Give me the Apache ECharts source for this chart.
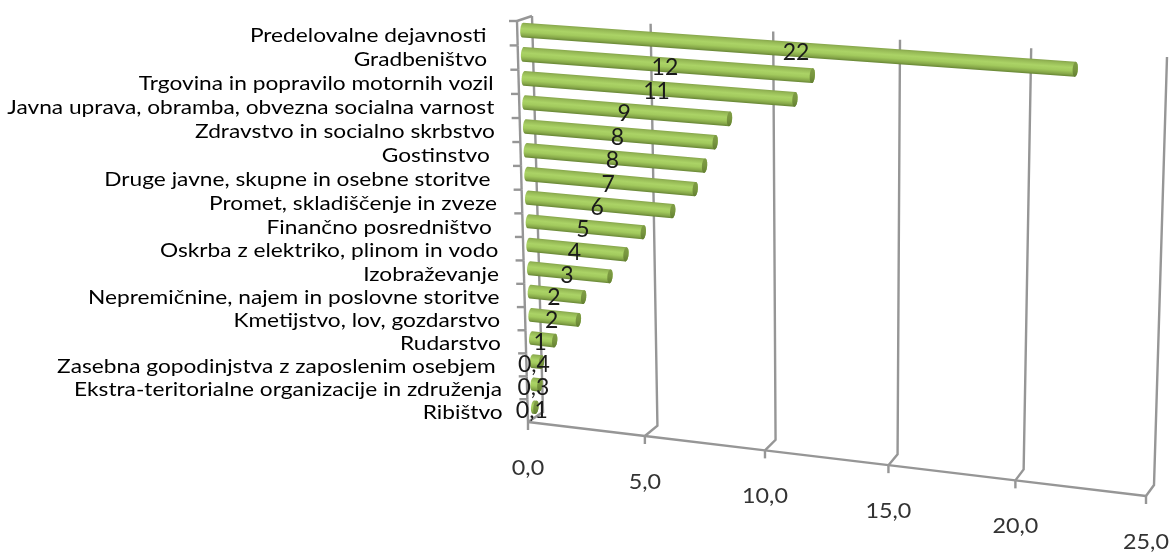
<!DOCTYPE html>
<html><head><meta charset="utf-8">
<style>html,body{margin:0;padding:0;background:#fff}#c{width:1170px;height:552px}</style>
<script src="https://cdn.jsdelivr.net/npm/echarts@6/dist/echarts.min.js"></script>
</head><body><div id="c"></div>
<script>
const categories = ["Predelovalne dejavnosti ","Gradbeništvo ","Trgovina in popravilo motornih vozil","Javna uprava, obramba, obvezna socialna varnost","Zdravstvo in socialno skrbstvo","Gostinstvo ","Druge javne, skupne in osebne storitve ","Promet, skladiščenje in zveze","Finančno posredništvo ","Oskrba z elektriko, plinom in vodo","Izobraževanje","Nepremičnine, najem in poslovne storitve","Kmetijstvo, lov, gozdarstvo","Rudarstvo","Zasebna gopodinjstva z zaposlenim osebjem ","Ekstra-teritorialne organizacije in združenja","Ribištvo"];
const values = [22,11.9,11.2,8.55,7.95,7.5,7.1,6.15,4.9,4.15,3.45,2.3,2.05,1,0.4,0.3,0.1];
const valueLabels = ["22","12","11","9","8","8","7","6","5","4","3","2","2","1","0,4","0,3","0,1"];
const axisTicks = [0,5,10,15,20,25];
const axisTickLabels = ["0,0","5,0","10,0","15,0","20,0","25,0"];

const FONT = 'Lato, "Open Sans", sans-serif';
// perspective planes of the 3-D box: [top-left, top-right, bottom-right, bottom-left]
const frontPlane = [[517,21],[1159,68],[1146,496],[528,422]];
const backPlane  = [[532,16],[1167,57],[1154,485],[543,412]];
const barPlane   = [[522.5,18],[1157,62],[1149,493],[534,418.5]];

function homography(q){
  const [p0,p1,p2,p3]=q;
  const dx1=p1[0]-p2[0],dx2=p3[0]-p2[0],sx=p0[0]-p1[0]+p2[0]-p3[0];
  const dy1=p1[1]-p2[1],dy2=p3[1]-p2[1],sy=p0[1]-p1[1]+p2[1]-p3[1];
  const det=dx1*dy2-dx2*dy1;
  const g=(sx*dy2-dx2*sy)/det,h=(dx1*sy-sx*dy1)/det;
  const a=p1[0]-p0[0]+g*p1[0],b=p3[0]-p0[0]+h*p3[0],c=p0[0];
  const d=p1[1]-p0[1]+g*p1[1],e=p3[1]-p0[1]+h*p3[1],f=p0[1];
  return (u,v)=>{const w=g*u+h*v+1;return [(a*u+b*v+c)/w,(d*u+e*v+f)/w];};
}
const front=homography(frontPlane),back=homography(backPlane),bar=homography(barPlane);
const GRAY='#969696';
const norm=(api,params,v,cat)=>{
  const cs=params.coordSys,p=api.coord([v,cat]);
  return [(p[0]-cs.x)/cs.width,(p[1]-cs.y)/cs.height];
};
const line=(pts,w)=>({type:'polyline',shape:{points:pts},style:{stroke:GRAY,lineWidth:w||2.4,fill:null}});
const barStops=[{offset:0,color:'#86a54b'},{offset:.12,color:'#95b855'},{offset:.4,color:'#abd366'},{offset:.62,color:'#a2ca5d'},{offset:.85,color:'#86a749'},{offset:1,color:'#668534'}];

function renderWall(params,api){
  const i=params.dataIndex,[u]=norm(api,params,api.value(0),0);
  const f0=front(u,1),b0=back(u,1),b1=back(u,0);
  const kids=[line([f0,b0,b1]),line([f0,[f0[0],f0[1]+8]])];
  if(i<axisTicks.length-1){
    const [un]=norm(api,params,axisTicks[i+1],0);
    kids.push(line([f0,front(un,1)]));
  }
  kids.push({type:'text',x:f0[0],y:f0[1]+46,scaleX:1.06,style:{x:0,y:0,text:axisTickLabels[i],fontFamily:FONT,fontSize:22,fill:'#333',align:'center',verticalAlign:'middle'}});
  return {type:'group',children:kids};
}
function renderBar(params,api){
  const v=api.value(0),cat=api.value(1);
  const [u,h]=norm(api,params,v,cat),[u0]=norm(api,params,0,cat);
  const s=bar(u0,h),e=bar(u,h);
  const dx=e[0]-s[0],dy=e[1]-s[1],L=Math.hypot(dx,dy)||1;
  const tx=dx/L,ty=dy/L,nx=-ty,ny=tx,R=7.5-0.8*h,A=2.6;
  const pts=[];
  const arc=(c,a0,a1,n,mat)=>{for(let k=0;k<=n;k++){const t=a0+(a1-a0)*k/n;mat.push([c[0]+A*Math.cos(t)*tx+R*Math.sin(t)*nx,c[1]+A*Math.cos(t)*ty+R*Math.sin(t)*ny]);}};
  arc(e,-Math.PI/2,Math.PI/2,12,pts);
  arc(s,Math.PI/2,Math.PI*1.5,12,pts);
  const cap=[];arc(e,0,Math.PI*2,24,cap);
  const grad=new echarts.graphic.LinearGradient(s[0]-nx*R,s[1]-ny*R,s[0]+nx*R,s[1]+ny*R,barStops,true);
  const capGrad=new echarts.graphic.LinearGradient(e[0]-nx*R,e[1]-ny*R,e[0]+nx*R,e[1]+ny*R,[{offset:0,color:'#7f9d45'},{offset:.5,color:'#78963f'},{offset:1,color:'#637f31'}],true);
  return {type:'group',children:[
    {type:'polygon',shape:{points:pts},style:{fill:grad}},
    {type:'polygon',shape:{points:cap},style:{fill:capGrad}}
  ]};
}
function renderValueLabel(params,api){
  const v=api.value(0),cat=api.value(1);
  const [u,h]=norm(api,params,v,cat),[u0]=norm(api,params,0,cat);
  const s=bar(u0,h),e=bar(u,h);
  return {type:'text',x:(s[0]+e[0])/2-3,y:(s[1]+e[1])/2+3,style:{x:0,y:0,text:valueLabels[params.dataIndex],fontFamily:FONT,fontSize:23,fill:'#1a1a1a',align:'center',verticalAlign:'middle'}};
}
function renderCategory(params,api){
  const i=params.dataIndex,band=api.size([0,1])[1]/params.coordSys.height;
  const [,h]=norm(api,params,0,i);
  const c=front(0,h),t0=front(0,h-band/2);
  const kids=[line([[t0[0],t0[1]],[t0[0]-8,t0[1]]])];
  const t1=front(0,h+band/2);
  kids.push(line([t0,t1]));
  if(i===0){kids.push(line([t0,back(0,0)]));}
  kids.push({type:'text',x:c[0]-25,y:c[1]+2,scaleX:1.135,style:{x:0,y:0,text:categories[i],fontFamily:FONT,fontSize:20,fill:'#000',align:'right',verticalAlign:'middle'}});
  return {type:'group',children:kids};
}
const catData=values.map((v,i)=>[v,i]);
const base={type:'custom',coordinateSystem:'cartesian2d',silent:true,clip:false,animation:false,encode:{x:0,y:1}};
const chart=echarts.init(document.getElementById('c'),null,{renderer:'canvas'});
chart.setOption({
  animation:false,
  backgroundColor:'#fff',
  grid:{left:100,top:100,width:800,height:340},
  xAxis:{type:'value',min:0,max:25,interval:5,show:false},
  yAxis:{type:'category',data:categories.map((_,i)=>i),inverse:true,show:false},
  series:[
    Object.assign({},base,{z:1,data:axisTicks.map(t=>[t,0]),renderItem:renderWall}),
    Object.assign({},base,{z:2,data:catData,renderItem:renderCategory}),
    Object.assign({},base,{z:3,data:catData,renderItem:renderBar}),
    Object.assign({},base,{z:4,data:catData,renderItem:renderValueLabel})
  ]
});
</script></body></html>
